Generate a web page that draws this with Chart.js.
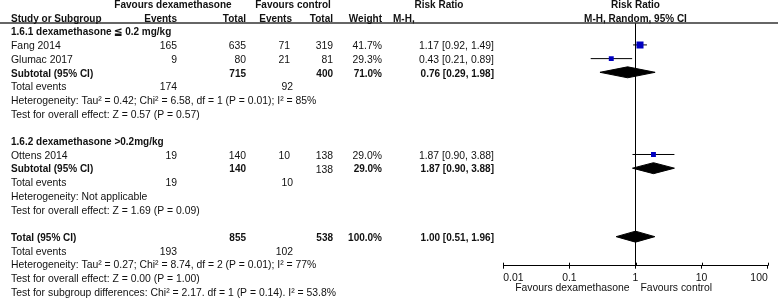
<!DOCTYPE html>
<html>
<head>
<meta charset="utf-8">
<script src="https://cdn.jsdelivr.net/npm/chart.js@4.4.0/dist/chart.umd.min.js"></script>
<style>
  body { margin: 0; background: #fff; }
  canvas { display: block; }
</style>
</head>
<body>
<canvas id="forest" width="778" height="303"></canvas>
<script>
// single studies
const studies = ['Fang 2014', 'Glumac 2017', 'Ottens 2014'];
const studyRows = [3, 4, 11];
const dexEvents = [165, 9, 19];
const dexTotal = [635, 80, 140];
const ctlEvents = [71, 21, 10];
const ctlTotal = [319, 81, 138];
const weights = [41.7, 29.3, 29.0];
const rr = [1.17, 0.43, 1.87];
const rrLow = [0.92, 0.21, 0.90];
const rrHigh = [1.49, 0.89, 3.88];

// subgroups + overall
const groupTitles = ['1.6.1 dexamethasone \u2266 0.2 mg/kg', '1.6.2 dexamethasone >0.2mg/kg'];
const groupRows = [2, 10];
const sumLabels = ['Subtotal (95% CI)', 'Subtotal (95% CI)', 'Total (95% CI)'];
const sumRows = [5, 12, 17];
const sumDexTotal = [715, 140, 855];
const sumCtlTotal = [400, 138, 538];
const sumWeights = [71.0, 29.0, 100.0];
const sumRR = [0.76, 1.87, 1.00];
const sumLow = [0.29, 0.90, 0.51];
const sumHigh = [1.98, 3.88, 1.96];
const evDex = [174, 19, 193];
const evCtl = [92, 10, 102];
const evRows = [6, 13, 18];

const notes = [
  'Heterogeneity: Tau\u00b2 = 0.42; Chi\u00b2 = 6.58, df = 1 (P = 0.01); I\u00b2 = 85%',
  'Test for overall effect: Z = 0.57 (P = 0.57)',
  'Heterogeneity: Not applicable',
  'Test for overall effect: Z = 1.69 (P = 0.09)',
  'Heterogeneity: Tau\u00b2 = 0.27; Chi\u00b2 = 8.74, df = 2 (P = 0.01); I\u00b2 = 77%',
  'Test for overall effect: Z = 0.00 (P = 1.00)',
  'Test for subgroup differences: Chi\u00b2 = 2.17. df = 1 (P = 0.14). I\u00b2 = 53.8%'
];
const noteRows = [7, 8, 14, 15, 19, 20, 21];

const xTicks = [0.01, 0.1, 1, 10, 100];
const rowMin = 1.4, rowMax = 19.12;

const FONT = '"Liberation Sans", Arial, sans-serif';
const ci = (e, l, h) => e.toFixed(2) + ' [' + l.toFixed(2) + ', ' + h.toFixed(2) + ']';

// datasets: squares, whiskers, diamonds, line of no effect
const datasets = [];
datasets.push({
  type: 'scatter',
  data: rr.map((v, i) => ({x: v, y: studyRows[i]})),
  pointStyle: 'rect',
  pointRadius: weights.map(w => w / 8.4),
  backgroundColor: '#0000c0',
  borderWidth: 0,
  order: 0
});
rr.forEach((v, i) => {
  datasets.push({
    type: 'line',
    data: [{x: rrLow[i], y: studyRows[i]}, {x: rrHigh[i], y: studyRows[i]}],
    borderColor: '#000', borderWidth: 1, pointRadius: 0, fill: false, order: 1
  });
});
sumRR.forEach((v, i) => {
  const r = sumRows[i];
  datasets.push({
    type: 'line',
    data: [{x: sumLow[i], y: r}, {x: v, y: r - 0.4}, {x: sumHigh[i], y: r}],
    borderColor: '#000', backgroundColor: '#000', borderWidth: 1, pointRadius: 0,
    fill: '+1', tension: 0, order: 1
  });
  datasets.push({
    type: 'line',
    data: [{x: sumLow[i], y: r}, {x: v, y: r + 0.4}, {x: sumHigh[i], y: r}],
    borderColor: '#000', borderWidth: 1, pointRadius: 0, fill: false, tension: 0, order: 1
  });
});
datasets.push({
  type: 'line',
  data: [{x: 1, y: rowMin}, {x: 1, y: rowMax}],
  borderColor: '#000', borderWidth: 1, pointRadius: 0, fill: false, order: 2
});

const tablePlugin = {
  id: 'table',
  afterDraw(chart) {
    const {ctx, chartArea: a, scales: {x, y}} = chart;
    const x1 = x.getPixelForValue(1);
    const ry = r => y.getPixelForValue(r) + 1.5;
    const put = (s, px, r, align, bold) => {
      ctx.font = bold ? 'bold 10px ' + FONT : '10.4px ' + FONT;
      ctx.textAlign = align;
      ctx.fillText(String(s), px, ry(r));
    };
    ctx.save();
    ctx.fillStyle = '#111';
    ctx.textBaseline = 'middle';

    // header rule
    ctx.strokeStyle = '#333';
    ctx.lineWidth = 1.5;
    ctx.beginPath();
    ctx.moveTo(0, a.top);
    ctx.lineTo(778, a.top);
    ctx.stroke();

    // small tick marks above the axis
    ctx.lineWidth = 1;
    ctx.strokeStyle = '#000';
    xTicks.forEach(t => {
      const px = Math.round(x.getPixelForValue(t)) + 0.5;
      ctx.beginPath();
      ctx.moveTo(px, a.bottom - 3);
      ctx.lineTo(px, a.bottom);
      ctx.stroke();
    });

    // headers
    put('Favours dexamethasone', 173, 0, 'center', true);
    put('Favours control', 293, 0, 'center', true);
    put('Risk Ratio', 439, 0, 'center', true);
    put('Risk Ratio', x1, 0, 'center', true);
    put('Study or Subgroup', 11, 1, 'left', true);
    put('Events', 177, 1, 'right', true);
    put('Total', 246, 1, 'right', true);
    put('Events', 292, 1, 'right', true);
    put('Total', 333, 1, 'right', true);
    put('Weight', 382, 1, 'right', true);
    put('M-H,', 393, 1, 'left', true);
    put('M-H, Random, 95% CI', x1, 1, 'center', true);

    groupTitles.forEach((g, i) => put(g, 11, groupRows[i], 'left', true));

    studies.forEach((s, i) => {
      const r = studyRows[i];
      put(s, 11, r, 'left');
      put(dexEvents[i], 177, r, 'right');
      put(dexTotal[i], 246, r, 'right');
      put(ctlEvents[i], 290, r, 'right');
      put(ctlTotal[i], 333, r, 'right');
      put(weights[i].toFixed(1) + '%', 382, r, 'right');
      put(ci(rr[i], rrLow[i], rrHigh[i]), 494, r, 'right');
    });

    sumLabels.forEach((s, i) => {
      const r = sumRows[i];
      put(s, 11, r, 'left', true);
      put(sumDexTotal[i], 246, r, 'right', true);
      put(sumCtlTotal[i], 333, r, 'right', i !== 1);
      put(sumWeights[i].toFixed(1) + '%', 382, r, 'right', true);
      put(ci(sumRR[i], sumLow[i], sumHigh[i]), 494, r, 'right', true);
      put('Total events', 11, evRows[i], 'left');
      put(evDex[i], 177, evRows[i], 'right');
      put(evCtl[i], 293, evRows[i], 'right');
    });

    notes.forEach((n, i) => put(n, 11, noteRows[i], 'left'));

    // favours labels under the axis
    ctx.font = '10.4px ' + FONT;
    ctx.textAlign = 'right';
    ctx.fillText('Favours dexamethasone', x1 - 6, a.bottom + 22.5);
    ctx.textAlign = 'left';
    ctx.fillText('Favours control', x1 + 5, a.bottom + 22.5);
    ctx.restore();
  }
};

new Chart(document.getElementById('forest'), {
  type: 'scatter',
  data: {datasets: datasets},
  options: {
    responsive: false,
    animation: false,
    events: [],
    layout: {padding: {left: 503.3, right: 10.3, top: 23, bottom: 0}},
    plugins: {legend: {display: false}, tooltip: {enabled: false}},
    scales: {
      x: {
        type: 'logarithmic',
        min: 0.01,
        max: 100,
        afterBuildTicks: s => { s.ticks = xTicks.map(v => ({value: v})); },
        afterFit: s => { s.height = 37.3; },
        border: {color: '#000', width: 1},
        grid: {drawOnChartArea: false, tickLength: 3, color: '#000'},
        ticks: {
          align: 'inner', padding: 3, color: '#111', autoSkip: false, maxRotation: 0,
          font: {family: FONT, size: 10.4},
          callback: v => String(v)
        }
      },
      y: {type: 'linear', reverse: true, min: rowMin, max: rowMax, display: false}
    }
  },
  plugins: [tablePlugin]
});
</script>
</body>
</html>
